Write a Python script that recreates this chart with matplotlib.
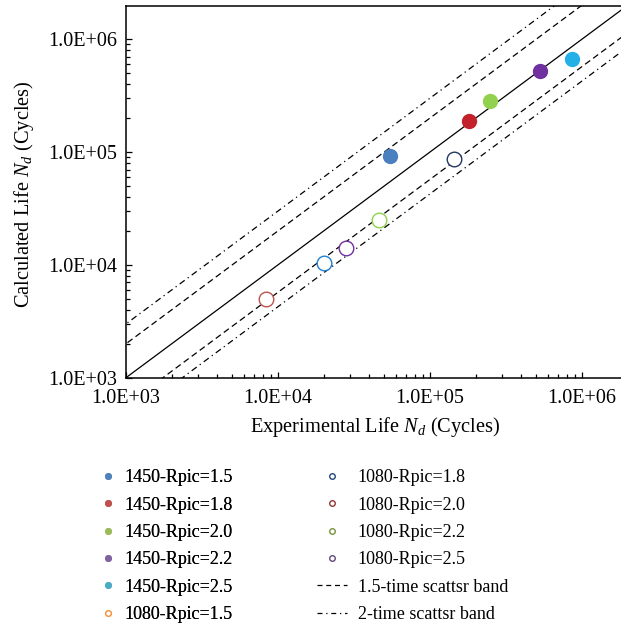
import matplotlib
matplotlib.use("Agg")
import matplotlib.pyplot as plt
import numpy as np
from matplotlib.lines import Line2D
from matplotlib.ticker import LogLocator, NullFormatter, FixedLocator

plt.rcParams['font.family'] = ['Liberation Serif', 'DejaVu Serif']
plt.rcParams['mathtext.fontset'] = 'custom'
plt.rcParams['mathtext.rm'] = 'Liberation Serif'
plt.rcParams['mathtext.it'] = 'Liberation Serif:italic'

# ---- data ----
labels_1450 = ["1450-Rpic=1.5", "1450-Rpic=1.8", "1450-Rpic=2.0", "1450-Rpic=2.2", "1450-Rpic=2.5"]
exp_1450 = [5.5e4, 1.8e5, 2.5e5, 5.3e5, 8.6e5]
calc_1450 = [9.2e4, 1.9e5, 2.85e5, 5.2e5, 6.7e5]

labels_1080 = ["1080-Rpic=1.5", "1080-Rpic=1.8", "1080-Rpic=2.0", "1080-Rpic=2.2", "1080-Rpic=2.5"]
exp_1080 = [2.0e4, 1.45e5, 8.3e3, 4.6e4, 2.8e4]
calc_1080 = [1.04e4, 8.6e4, 5.0e3, 2.5e4, 1.4e4]

# plotted colours
colors_1450 = ["#4A7FC0", "#C3222B", "#92D050", "#7030A0", "#22B0E6"]
colors_1080 = ["#2280D0", "#203864", "#C0504D", "#92D050", "#7030A0"]
# legend colours
leg_colors_1450 = ["#4F81BD", "#C0504D", "#9BBB59", "#8064A2", "#4BACC6"]
leg_colors_1080 = ["#F79646", "#1F497D", "#943634", "#76923C", "#5F497A"]

band_upper_dash = 2.0
band_upper_dashdot = 3.0
band_lower_dash = 1.75
band_lower_dashdot = 2.35

xlim = (1e3, 1.81e6)
ylim = (1e3, 1.96e6)
tick_vals = [1e3, 1e4, 1e5, 1e6]
tick_labels = ["1.0E+03", "1.0E+04", "1.0E+05", "1.0E+06"]

W, H = 621, 627
fig = plt.figure(figsize=(W / 100, H / 100), dpi=100)
ax = fig.add_axes([126 / W, 1 - 377.7 / H, (621 - 126) / W, (377.7 - 6.3) / H])
ax.set_xscale('log')
ax.set_yscale('log')
ax.set_xlim(*xlim)
ax.set_ylim(*ylim)

xx = np.logspace(2, 7, 200)
ax.plot(xx, xx, color='black', lw=0.9, zorder=2)
dash = (0, (5, 3))
dashdot = (0, (5, 3, 1, 3))
ax.plot(xx, xx * band_upper_dash, color='black', lw=0.9, linestyle=dash, zorder=2)
ax.plot(xx, xx / band_lower_dash, color='black', lw=0.9, linestyle=dash, zorder=2)
ax.plot(xx, xx * band_upper_dashdot, color='black', lw=0.9, linestyle=dashdot, zorder=2)
ax.plot(xx, xx / band_lower_dashdot, color='black', lw=0.9, linestyle=dashdot, zorder=2)

for x, y, c in zip(exp_1450, calc_1450, colors_1450):
    ax.plot([x], [y], marker='o', linestyle='none', markersize=10, color=c, mec=c, zorder=3)
for x, y, c in zip(exp_1080, calc_1080, colors_1080):
    ax.plot([x], [y], marker='o', linestyle='none', markersize=10.5, mfc='white', mec=c, mew=1.0, zorder=3)

ax.xaxis.set_major_locator(FixedLocator(tick_vals))
ax.yaxis.set_major_locator(FixedLocator(tick_vals))
ax.set_xticklabels(tick_labels)
ax.set_yticklabels(tick_labels)
ax.xaxis.set_minor_locator(LogLocator(base=10, subs=np.arange(2, 10)))
ax.yaxis.set_minor_locator(LogLocator(base=10, subs=np.arange(2, 10)))
ax.xaxis.set_minor_formatter(NullFormatter())
ax.yaxis.set_minor_formatter(NullFormatter())
ax.tick_params(which='both', direction='in', width=0.9, labelsize=14.5)
ax.tick_params(which='major', length=4)
ax.tick_params(which='minor', length=3)
ax.tick_params(axis='x', which='major', pad=8)
ax.tick_params(axis='y', which='major', pad=6.5)
ax.spines['right'].set_visible(False)
for s in ['left', 'bottom', 'top']:
    ax.spines[s].set_linewidth(1.1)

fig.text(24 / W, 1 - 194 / H, r'Calculated Life $N_d$ (Cycles)', rotation=90,
         ha='center', va='center', fontsize=14.7)
fig.text(375.5 / W, 1 - 427 / H, r'Experimental Life $N_d$ (Cycles)',
         ha='center', va='center', fontsize=14.7)

# legend
h1 = [Line2D([], [], marker='o', linestyle='none', markersize=4, color=c) for c in leg_colors_1450]
h1.append(Line2D([], [], marker='o', linestyle='none', markersize=4, mfc='white', mec=leg_colors_1080[0], mew=1))
l1 = labels_1450 + [labels_1080[0]]
h2 = [Line2D([], [], marker='o', linestyle='none', markersize=4, mfc='white', mec=c, mew=1) for c in leg_colors_1080[1:]]
h2.append(Line2D([], [], color='black', lw=0.9, linestyle=(0, (4, 3))))
h2.append(Line2D([], [], color='black', lw=0.9, linestyle=(0, (4, 3, 1, 3))))
l2 = labels_1080[1:] + ["1.5-time scattsr band", "2-time scattsr band"]

leg1 = fig.legend(h1, l1, loc='upper left', bbox_to_anchor=(99 / W, 1 - 469.4 / H), frameon=False,
                  fontsize=13, borderpad=0, borderaxespad=0, handlelength=0.96,
                  handletextpad=0.46, labelspacing=0.57)
leg2 = fig.legend(h2, l2, loc='upper left', bbox_to_anchor=(317 / W, 1 - 469.4 / H), frameon=False,
                  fontsize=13, borderpad=0, borderaxespad=0, handlelength=1.66,
                  handletextpad=0.6, labelspacing=0.57)
fig.add_artist(leg1)

fig.savefig("out.png", dpi=100)
